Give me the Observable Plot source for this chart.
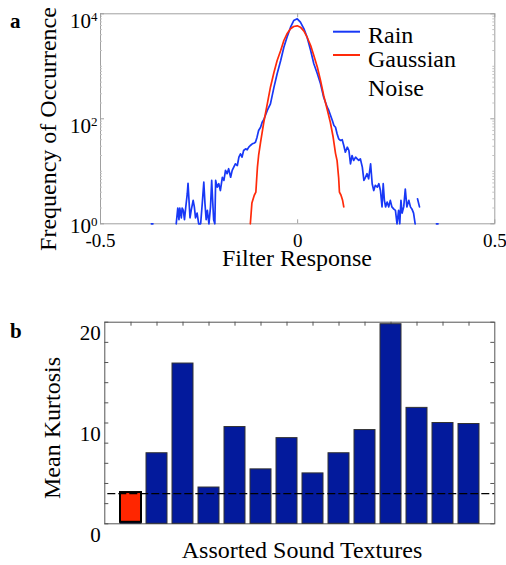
<!DOCTYPE html>
<html><head><meta charset="utf-8">
<script src="https://cdn.jsdelivr.net/npm/d3@7"></script>
<script src="https://cdn.jsdelivr.net/npm/@observablehq/plot@0.6"></script>
<style>
body{margin:0;background:#fff;}
#wrap{position:relative;width:506px;height:565px;font-family:"Liberation Serif","Times New Roman",serif;}
#wrap svg{position:absolute;left:0;overflow:visible;}
</style></head><body><div id="wrap"></div>
<script>
// ---------- Panel a: histogram of filter responses ----------
const rainX = [-0.371,-0.367,-0.365,
 -0.308,-0.304,-0.301,-0.299,-0.295,-0.293,-0.290,-0.287,-0.284,-0.280,-0.278,-0.276,-0.273,-0.270,-0.265,-0.262,-0.259,-0.255,-0.251,-0.246,-0.242,-0.238,-0.235,-0.232,-0.229,-0.225,-0.221,-0.218,-0.216,-0.213,-0.210,-0.208,-0.204,-0.200,-0.196,-0.191,-0.187,-0.183,-0.179,-0.175,-0.170,-0.166,-0.162,-0.158,-0.153,-0.149,-0.145,-0.141,-0.137,-0.132,-0.128,-0.124,-0.120,-0.115,-0.111,-0.107,-0.103,-0.099,-0.094,-0.090,-0.086,-0.077,-0.069,-0.060,-0.052,-0.043,-0.035,-0.027,-0.018,-0.010,-0.001,0.007,0.016,0.024,0.033,0.041,0.050,0.058,0.066,0.075,0.079,0.088,0.092,0.096,0.100,0.104,0.109,0.113,0.117,0.121,0.126,0.130,0.134,0.138,0.142,0.147,0.151,0.155,0.159,0.164,0.168,0.172,0.176,0.180,0.185,0.189,0.193,0.197,0.202,0.206,0.210,0.214,0.217,0.220,0.223,0.227,0.231,0.235,0.239,0.244,0.248,0.252,0.256,0.259,0.262,0.265,0.269,0.273,0.277,0.282,0.286,0.290,0.294,0.298,0.301,0.304,0.309,0.330,0.352,0.356];
const rainN = [1,1,null,
 1,2,1.2,2,1.3,2,1.8,1.2,2,3.7,5.9,3.2,1.3,1.8,2.8,2.1,1.3,1.6,1,1,2.4,6.2,2.4,1.2,1.8,1,2.1,6.7,3.2,1.2,1,6.7,5.0,5.8,4.3,7.7,6.7,10.4,9.0,11.2,7.7,10.4,12,13.9,12.9,18.6,21.5,18.6,24.9,26.8,25.7,28.8,31,33.4,34.3,35.8,44.7,59.8,69,86,96,144,193,400,720,1290,2310,3580,5560,7450,8030,6920,5180,3580,2000,1115,720,464,258,166,144,93,74.5,69,51.8,41.6,38.6,40,31,23.1,28.8,24.9,13.9,20,16.1,18.6,17.3,16.1,17.3,12,6.7,7.7,9.0,7.2,13.9,5.8,4.3,5.4,5.0,5.8,4.3,2.1,5.8,2.8,2.1,2.6,2.1,2.8,2.1,1.9,1.8,1,1.8,1,2.8,1.6,2.1,4.6,2.1,2.8,2.1,1.9,1.6,1,null,3.0,2.1,null,1,1];
const noiseX = [-0.120,-0.116,-0.110,-0.106,-0.104,-0.102,-0.099,-0.094,-0.090,-0.086,-0.077,-0.069,-0.060,-0.052,-0.043,-0.035,-0.027,-0.018,-0.010,-0.001,0.007,0.016,0.024,0.033,0.041,0.050,0.058,0.066,0.075,0.083,0.090,0.096,0.100,0.104,0.106,0.110,0.114,0.117];
const noiseN = [1,2.5,3.5,4,7,12,20,36,55,85,193,400,772,1290,2000,3100,4160,5180,5730,5910,5560,4670,3580,2490,1600,960,537,278,150,85,45,22,16,7.5,4,3.5,2.8,2.1];
const responseTicks = [-0.5, 0, 0.5];
const freqTicks = [1, 100, 10000];
const freqMinor = [2,3,4,5,6,7,8,9,10,20,30,40,50,60,70,80,90,200,300,400,500,600,700,800,900,1000,2000,3000,4000,5000,6000,7000,8000,9000];
const seriesNames = ["Rain", "Gaussian", "Noise"];

// ---------- Panel b: mean kurtosis ----------
const textures = ["Gaussian noise","Texture 1","Texture 2","Texture 3","Texture 4","Texture 5","Texture 6","Texture 7","Texture 8","Texture 9","Texture 10","Texture 11","Texture 12","Texture 13"];
const kurtosis = [3.1, 7.0, 15.9, 3.6, 9.6, 5.4, 8.5, 5.0, 7.0, 9.3, 19.8, 11.5, 10.0, 9.9];
const gaussianKurtosis = 3;
const kurtTicks = [0, 10, 20];
const kurtMinor = [0,2,4,6,8,10,12,14,16,18,20];

// ---------- styling ----------
const W = 506;
const serif = "'Liberation Serif','Times New Roman',serif";
const lineBlue = "#1838f6", lineRed = "#ff2a0a";
const barBlue = "#031a9c", barRed = "#ff2600";
const wrap = document.getElementById("wrap");
const fmtPow = d => "10^" + Math.round(Math.log10(d));

// Panel a
const aH = 280, aMT = 13.3, aMB = 56.7, aML = 100, aMR = 11.7;
const aIW = W - aML - aMR, aIH = aH - aMT - aMB;
const rain = rainX.map((x, i) => ({x, n: rainN[i]}));
const noise = noiseX.map((x, i) => ({x, n: noiseN[i]}));
const gA = "#a0a0a0";
const chartA = Plot.plot({
  width: W, height: aH, marginTop: aMT, marginBottom: aMB, marginLeft: aML, marginRight: aMR,
  style: {fontFamily: serif, fontSize: "20px", background: "transparent", color: "#000"},
  x: {domain: [-0.5, 0.5]},
  y: {type: "log", domain: [1, 1e4]},
  marks: [
    Plot.frame({stroke: gA}),
    Plot.tickY(freqTicks, {y: d => d, stroke: gA, insetRight: aIW - 4}),
    Plot.tickY(freqTicks, {y: d => d, stroke: gA, insetLeft: aIW - 4}),
    Plot.tickY(freqMinor, {y: d => d, stroke: "#c4c4c4", insetRight: aIW - 2}),
    Plot.tickY(freqMinor, {y: d => d, stroke: "#c4c4c4", insetLeft: aIW - 2}),
    Plot.tickX(responseTicks, {x: d => d, stroke: gA, insetTop: aIH - 4}),
    Plot.tickX(responseTicks, {x: d => d, stroke: gA, insetBottom: aIH - 4}),
    Plot.axisX({ticks: responseTicks, tickSize: 0, tickPadding: 10, fontSize: 19, label: null, tickFormat: d => String(d)}),
    Plot.axisY({ticks: freqTicks.filter(d => d > 1), tickSize: 0, tickPadding: 3, dy: 7, fontSize: 21, label: null, tickFormat: fmtPow}),
    Plot.axisY({ticks: freqTicks.filter(d => d === 1), tickSize: 0, tickPadding: 3, dy: 2, fontSize: 21, label: null, tickFormat: fmtPow}),
    Plot.line(rain, {x: "x", y: "n", stroke: lineBlue, strokeWidth: 1.7}),
    Plot.line(noise, {x: "x", y: "n", stroke: lineRed, strokeWidth: 1.7})
  ]
});
chartA.style.top = "0px";
wrap.appendChild(chartA);
const sA = d3.select(chartA);
sA.selectAll("g[aria-label='y-axis tick label'] text").each(function() {
  const t = d3.select(this);
  const [b, e] = t.text().split("^");
  t.text(b);
  t.append("tspan").attr("dy", "-0.5em").attr("font-size", "0.62em").text(e);
});
sA.append("text").attr("transform", "translate(56,129) rotate(-90)").attr("text-anchor", "middle")
  .attr("font-size", 24).attr("font-family", serif).text("Frequency of Occurrence");
sA.append("text").attr("x", 297).attr("y", 266).attr("text-anchor", "middle")
  .attr("font-size", 24).attr("font-family", serif).text("Filter Response");
sA.append("text").attr("x", 10).attr("y", 28).attr("text-anchor", "start").attr("font-weight", "bold")
  .attr("font-size", 21).attr("font-family", serif).text("a");
// legend
const leg = sA.append("g").attr("font-family", serif).attr("font-size", 24).attr("text-anchor", "start");
leg.append("line").attr("x1", 333).attr("x2", 360).attr("y1", 31.7).attr("y2", 31.7).attr("stroke", lineBlue).attr("stroke-width", 2);
leg.append("line").attr("x1", 333).attr("x2", 360).attr("y1", 55).attr("y2", 55).attr("stroke", lineRed).attr("stroke-width", 2);
leg.append("text").attr("x", 368).attr("y", 43).text(seriesNames[0]);
leg.append("text").attr("x", 368).attr("y", 67).text(seriesNames[1]);
leg.append("text").attr("x", 368).attr("y", 96).text(seriesNames[2]);

// Panel b
const bTop = 280;
const bH = 285, bMT = 41.7, bMB = 41.7, bML = 104.3, bMR = 11.7;
const bIW = W - bML - bMR, bIH = bH - bMT - bMB;
const bars = textures.map((t, i) => ({t, k: kurtosis[i]}));
const gB = "#555";
const chartB = Plot.plot({
  width: W, height: bH, marginTop: bMT, marginBottom: bMB, marginLeft: bML, marginRight: bMR,
  style: {fontFamily: serif, fontSize: "21px", background: "transparent", color: "#000"},
  x: {type: "band", domain: textures, paddingInner: 0.2, paddingOuter: 0.6, axis: null},
  y: {domain: [0, 20], axis: null},
  marks: [
    Plot.frame({stroke: gB}),
    Plot.tickY(kurtMinor, {y: d => d, stroke: gB, insetRight: bIW - 4}),
    Plot.tickY(kurtMinor, {y: d => d, stroke: gB, insetLeft: bIW - 4}),
    Plot.tickX(textures, {x: d => d, stroke: gB, insetBottom: bIH - 4}),
    Plot.axisY({ticks: kurtTicks, tickSize: 0, tickPadding: 4, dy: 11, label: null}),
    Plot.barY(bars, {x: "t", y: "k", fill: barBlue, stroke: "#333", strokeWidth: 1}),
    Plot.barY(bars, {filter: d => d.t === textures[0], x: "t", y: "k", fill: barRed, stroke: "#000", strokeWidth: 2, insetBottom: 1.5}),
    Plot.ruleY([gaussianKurtosis], {stroke: "#000", strokeWidth: 1.3, strokeDasharray: "8,3", insetLeft: 3})
  ]
});
chartB.style.top = bTop + "px";
wrap.appendChild(chartB);
const sB = d3.select(chartB);
sB.append("text").attr("transform", "translate(60,148) rotate(-90)").attr("text-anchor", "middle")
  .attr("font-size", 24).attr("font-family", serif).text("Mean Kurtosis");
sB.append("text").attr("x", 302).attr("y", 278).attr("text-anchor", "middle")
  .attr("font-size", 24).attr("font-family", serif).text("Assorted Sound Textures");
sB.append("text").attr("x", 10).attr("y", 58).attr("text-anchor", "start").attr("font-weight", "bold")
  .attr("font-size", 21).attr("font-family", serif).text("b");
</script></body></html>
